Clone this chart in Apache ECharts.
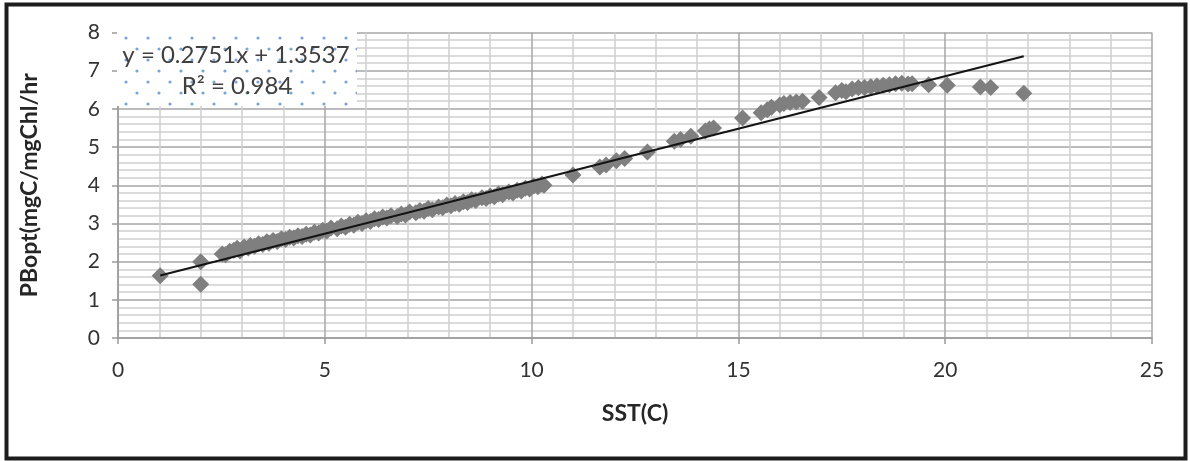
<!DOCTYPE html>
<html>
<head>
<meta charset="utf-8">
<script src="https://cdn.jsdelivr.net/npm/echarts@6/dist/echarts.min.js"></script>
<style>
  html, body { margin: 0; padding: 0; background: #ffffff; }
  #chart { width: 1190px; height: 461px; }
</style>
</head>
<body>
<div id="chart"></div>
<script>
// Sea surface temperature (C) of each observation
const sst = [
  1.02, 2.0, 2.0,
  2.52, 2.6, 2.7, 2.8, 2.88, 2.95, 3.05, 3.15, 3.2, 3.3, 3.4, 3.5, 3.6, 3.65, 3.75, 3.85, 3.95,
  4.05, 4.15, 4.25, 4.35, 4.45, 4.55, 4.65, 4.75, 4.85, 4.95, 5.05, 5.15, 5.3, 5.4, 5.5, 5.6,
  5.7, 5.8, 5.9, 6.0, 6.1, 6.2, 6.3, 6.4, 6.5, 6.6, 6.75, 6.85, 6.95, 7.05, 7.2, 7.3, 7.4,
  7.5, 7.6, 7.75, 7.85, 7.95, 8.05, 8.15, 8.25, 8.35, 8.45, 8.55, 8.65, 8.8, 8.9, 9.0, 9.1,
  9.2, 9.3, 9.45, 9.55, 9.65, 9.75, 9.85, 9.95, 10.05, 10.15, 10.25, 10.3,
  11.0, 11.65, 11.8, 12.05, 12.25, 12.8, 13.45, 13.6, 13.85, 14.2, 14.3, 14.4,
  15.1, 15.55, 15.7, 15.8, 16.0, 16.1, 16.25, 16.4, 16.55, 16.95, 17.35, 17.5, 17.6,
  17.75, 17.9, 18.05, 18.2, 18.35, 18.5, 18.65, 18.8, 18.95, 19.1, 19.2,
  19.6, 20.05, 20.85, 21.1, 21.9
];
// Optimal chlorophyll-normalised production PBopt (mgC/mgChl/hr)
const pbopt = [
  1.63, 2.0, 1.41,
  2.2, 2.18, 2.27, 2.3, 2.35, 2.28, 2.38, 2.36, 2.42, 2.4, 2.47, 2.45, 2.52, 2.48, 2.55, 2.53, 2.6,
  2.58, 2.64, 2.62, 2.68, 2.66, 2.72, 2.7, 2.77, 2.75, 2.82, 2.8, 2.88, 2.86, 2.93, 2.9, 2.98,
  2.95, 3.03, 3.0, 3.07, 3.05, 3.12, 3.1, 3.17, 3.14, 3.2, 3.18, 3.25, 3.22, 3.3, 3.28, 3.34, 3.32,
  3.39, 3.36, 3.43, 3.41, 3.48, 3.46, 3.52, 3.5, 3.57, 3.55, 3.62, 3.6, 3.67, 3.65, 3.72, 3.7,
  3.77, 3.75, 3.82, 3.8, 3.87, 3.85, 3.92, 3.9, 3.98, 3.96, 4.03, 4.0,
  4.27, 4.48, 4.53, 4.64, 4.7, 4.87, 5.15, 5.2, 5.28, 5.42, 5.47, 5.5,
  5.76, 5.9, 5.98, 6.04, 6.1, 6.14, 6.17, 6.18, 6.2, 6.3, 6.42, 6.48, 6.45,
  6.52, 6.55, 6.56, 6.58, 6.6, 6.62, 6.63, 6.66, 6.67, 6.65, 6.66,
  6.63, 6.62, 6.57, 6.56, 6.41
];

// Linear trend line as stated in the equation label
const slope = 0.2751;
const intercept = 1.3537;
const rSquared = 0.984;

const xTicks = [0, 5, 10, 15, 20, 25];
const yTicks = [0, 1, 2, 3, 4, 5, 6, 7, 8];

const points = sst.map((x, i) => [x, pbopt[i]]);
const xMin = Math.min(...sst), xMax = Math.max(...sst);
const trend = [[xMin, slope * xMin + intercept], [xMax, slope * xMax + intercept]];

// dotted fill behind the equation text
const dots = document.createElement('canvas');
dots.width = 22; dots.height = 22;
(function () {
  const c = dots.getContext('2d');
  c.fillStyle = '#ffffff';
  c.fillRect(0, 0, 22, 22);
  c.fillStyle = '#79a5db';
  [[5, 5], [16, 16]].forEach(p => { c.beginPath(); c.arc(p[0], p[1], 1.6, 0, Math.PI * 2); c.fill(); });
})();

const FONT = 'Lato, "Open Sans", sans-serif';
const chart = echarts.init(document.getElementById('chart'), null, { renderer: 'canvas' });

chart.setOption({
  animation: false,
  backgroundColor: '#ffffff',
  grid: { left: 118, right: 38, top: 32.5, bottom: 123, containLabel: false },
  xAxis: {
    type: 'value',
    min: xTicks[0], max: xTicks[xTicks.length - 1], interval: 5,
    name: 'SST(C)', nameLocation: 'middle', nameGap: 64,
    nameTextStyle: { fontFamily: FONT, fontWeight: 'bold', fontSize: 23, color: '#262626' },
    axisLine: { show: true, onZero: false, lineStyle: { color: '#9a9a9a', width: 1.5 } },
    axisTick: { show: true, length: 6, lineStyle: { color: '#9a9a9a', width: 1.5 } },
    axisLabel: { fontFamily: FONT, fontSize: 21, color: '#333333', margin: 22 },
    splitLine: { show: true, lineStyle: { color: '#a6a6a6', width: 1.5 } },
    minorTick: { show: false, splitNumber: 5 },
    minorSplitLine: { show: true, lineStyle: { color: '#d0d0d0', width: 1.5 } }
  },
  yAxis: {
    type: 'value',
    min: yTicks[0], max: yTicks[yTicks.length - 1], interval: 1,
    name: 'PBopt(mgC/mgChl/hr', nameLocation: 'middle', nameGap: 77, nameRotate: 90,
    nameTextStyle: { fontFamily: FONT, fontWeight: 'bold', fontSize: 23, color: '#262626' },
    axisLine: { show: true, lineStyle: { color: '#9a9a9a', width: 1.5 } },
    axisTick: { show: true, length: 6, lineStyle: { color: '#9a9a9a', width: 1.5 } },
    axisLabel: { fontFamily: FONT, fontSize: 21, color: '#333333', margin: 18 },
    splitLine: { show: true, lineStyle: { color: '#a6a6a6', width: 1.5 } },
    minorTick: { show: false, splitNumber: 5 },
    minorSplitLine: { show: true, lineStyle: { color: '#d0d0d0', width: 1.5 } }
  },
  series: [
    {
      type: 'scatter',
      data: points,
      symbol: 'diamond',
      symbolSize: 17,
      itemStyle: { color: '#7f7f7f', opacity: 1 },
      z: 3
    },
    {
      type: 'line',
      data: trend,
      symbol: 'none',
      lineStyle: { color: '#141414', width: 2 },
      z: 4
    }
  ],
  graphic: [
    {
      type: 'rect', z: 100,
      shape: { x: 117, y: 31, width: 240, height: 75 },
      style: { fill: { image: dots, repeat: 'repeat' } }
    },
    {
      type: 'text', z: 101, x: 236, y: 55,
      style: {
        text: 'y = ' + slope.toFixed(4) + 'x + ' + intercept.toFixed(4),
        fontFamily: FONT, fontSize: 24, fill: '#404040',
        textAlign: 'center', textVerticalAlign: 'middle'
      }
    },
    {
      type: 'text', z: 101, x: 237, y: 86,
      style: {
        text: 'R² = ' + rSquared.toFixed(3),
        fontFamily: FONT, fontSize: 24, fill: '#404040',
        textAlign: 'center', textVerticalAlign: 'middle'
      }
    },
    {
      type: 'rect', z: 200,
      shape: { x: 6.5, y: 4.5, width: 1179, height: 454 },
      style: { fill: 'none', stroke: '#1c1c1c', lineWidth: 4 }
    }
  ]
});
</script>
</body>
</html>
